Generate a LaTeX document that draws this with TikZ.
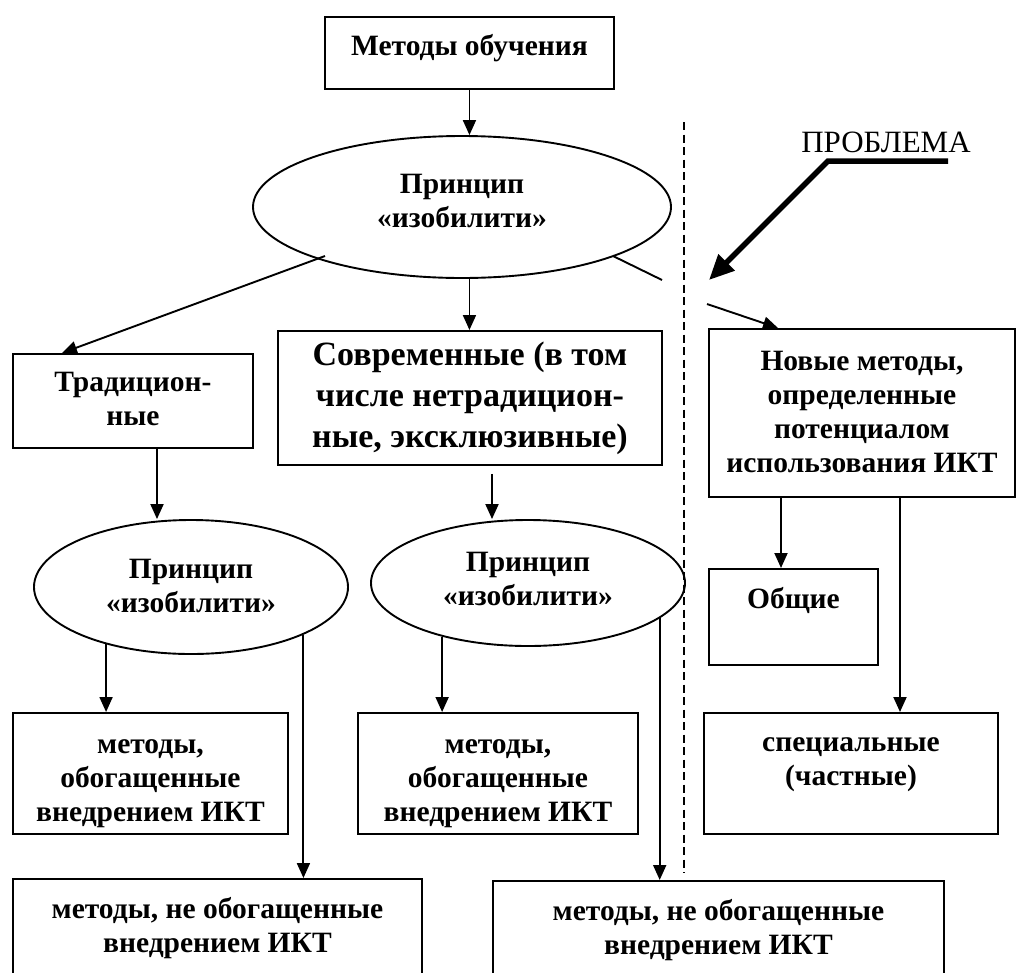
\documentclass[tikz,border=0pt]{standalone}
\usepackage{fontspec}
\setmainfont{Liberation Serif}
\usetikzlibrary{arrows.meta,shapes.geometric,calc}

% multi-line cell whose baseline is the first line
\newcommand\boxlines[1]{\begin{tabular}[t]{@{}c@{}}#1\end{tabular}}

\begin{document}
\begin{tikzpicture}[x=1pt,y=-1pt,
  every node/.style={inner sep=0pt, text=black},
  boxtext/.style={font=\bfseries\fontsize{29.5}{34}\selectfont},
  frame/.style={boxtext, draw, line width=1.9pt, rectangle, anchor=north west},
  oval/.style={boxtext, draw, line width=1.9pt, ellipse},
  drop/.style={text height=0pt, text depth=#1},
  link/.style={line width=1.9pt, -{Triangle[length=15pt,width=13pt]}},
  stub/.style={line width=1.9pt},
  bigarrow/.style={line width=5.5pt, -{Triangle[length=25pt,width=22pt]}},
  divider/.style={line width=1.3pt, dash pattern=on 8pt off 4.5pt},
]
\useasboundingbox (0,0) rectangle (1019,972);
\clip (0,0) rectangle (1019,972);

% ---- nodes ----
\node[frame, minimum width=289pt, minimum height=72pt, text height=6pt, text depth=0pt]
  (top) at (324,16) {\boxlines{Методы обучения}};

\node[oval, minimum width=418pt, minimum height=142pt, drop=28pt]
  (e1) at (462,207) {\boxlines{Принцип\\«изобилити»}};

\node[frame, minimum width=240pt, minimum height=94pt, drop=18pt]
  (trad) at (12,353) {\boxlines{Традицион-\\ные}};

\node[frame, font=\bfseries\fontsize{34}{41}\selectfont,
      minimum width=384pt, minimum height=134pt, drop=64pt]
  (modern) at (277,330) {\boxlines{Современные (в том\\числе нетрадицион-\\ные, эксклюзивные)}};

\node[frame, minimum width=306pt, minimum height=168pt, drop=84pt]
  (novye) at (708,328) {\boxlines{Новые методы,\\определенные\\потенциалом\\использования ИКТ}};

\node[oval, minimum width=314pt, minimum height=134pt, drop=18pt]
  (e2) at (191,587) {\boxlines{Принцип\\«изобилити»}};

\node[oval, minimum width=314pt, minimum height=126pt, drop=24pt]
  (e3) at (528,583) {\boxlines{Принцип\\«изобилити»}};

\node[frame, minimum width=169pt, minimum height=96pt, drop=16pt]
  (obsch) at (708,568) {\boxlines{Общие}};

\node[frame, minimum width=294pt, minimum height=121pt, drop=43pt]
  (spec) at (703,712) {\boxlines{специальные\\(частные)}};

\node[frame, minimum width=275pt, minimum height=121pt, drop=39pt]
  (enr1) at (12,712) {\boxlines{методы,\\обогащенные\\внедрением ИКТ}};

\node[frame, minimum width=280pt, minimum height=121pt, drop=39pt]
  (enr2) at (357,712) {\boxlines{методы,\\обогащенные\\внедрением ИКТ}};

\node[frame, minimum width=409pt, minimum height=107pt, drop=27pt]
  (non1) at (12,878) {\boxlines{методы, не обогащенные\\внедрением ИКТ}};

\node[frame, minimum width=451pt, minimum height=105pt, drop=25pt]
  (non2) at (492,880) {\boxlines{методы, не обогащенные\\внедрением ИКТ}};

\node[font=\fontsize{31}{36}\selectfont, anchor=base] (problem) at (886,152) {ПРОБЛЕМА};

% ---- free ends ----
\coordinate (dtop) at (684,122);
\coordinate (dbot) at (684,873);
\coordinate (leftfrom) at (325,256);
\coordinate (tradtip) at (62,353);
\coordinate (rightfrom) at (613,256);
\coordinate (rightto) at (662,280);
\coordinate (novfrom) at (707,304);
\coordinate (novtip) at (778,328);
\coordinate (pend) at (948,161);
\coordinate (pbend) at (828,161);
\coordinate (ptip) at (709,280);

% ---- dividing line ----
\draw[divider] (dtop) -- (dbot);

% ---- connectors ----
\draw[link] (top.south) -- (top.south |- e1.north);
\draw[link] (leftfrom) -- (tradtip);
\draw[link] (top.south |- e1.south) -- (top.south |- modern.north);
\draw[stub] (rightfrom) -- (rightto);
\draw[link] (novfrom) -- (novtip);

\draw[bigarrow] (pend) -- (pbend) -- (ptip);

\draw[link] (trad.south -| 157,0) -- (e2.north -| 157,0);
\draw[link, shorten <=8pt] (modern.south -| 492,0) -- (e3.north -| 492,0);
\draw[link] (novye.south -| 781,0) -- (obsch.north -| 781,0);
\draw[link] (novye.south -| 900,0) -- (spec.north -| 900,0);

\draw[link] (e2.214.5) -- (e2.214.5 |- enr1.north);
\draw[link] (e2.337.1) -- (e2.337.1 |- non1.north);
\draw[link] (e3.212.8) -- (e3.212.8 |- enr2.north);
\draw[link] (e3.345.9) -- (e3.345.9 |- non2.north);
\end{tikzpicture}
\end{document}
